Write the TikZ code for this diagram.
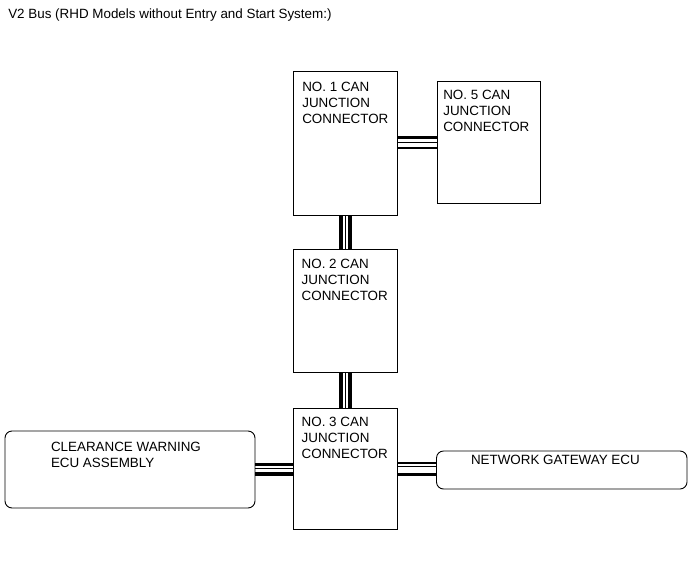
\documentclass[tikz,border=0pt]{standalone}
\usepackage{fontspec}
\setmainfont{Liberation Sans}
\newcommand{\boxlines}[1]{\begin{tabular}[t]{@{}l@{}}#1\end{tabular}}
\begin{document}
\begin{tikzpicture}[x=1pt,y=-1pt,
  box/.style={draw=black,line width=0.9pt,anchor=north west,inner sep=0pt,outer sep=0pt},
  rbox/.style={box,rounded corners=7pt},
  txt/.style={anchor=base west,inner sep=0pt,outer sep=0pt,font=\fontsize{13.4}{16}\selectfont},
  thick1/.style={line width=2.5pt},
  thin1/.style={line width=1.1pt},
  thick2/.style={line width=3.7pt}]
\useasboundingbox[fill=white] (0,0) rectangle (690,562);

% boxes
\node[box,minimum width=103.5pt,minimum height=144pt] (b1) at (293.5,71) {};
\node[box,minimum width=103.5pt,minimum height=122.5pt] (b5) at (437,81) {};
\node[box,minimum width=103.5pt,minimum height=123pt] (b2) at (293.5,249) {};
\node[box,minimum width=103.5pt,minimum height=121pt] (b3) at (293.5,408) {};
\node[rbox,minimum width=250pt,minimum height=77pt] (cl) at (5,431) {};
\node[rbox,minimum width=250.5pt,minimum height=38pt] (gw) at (436.5,451) {};

% texts
\node[txt] (title) at (8.3,18.5) {V2 Bus (RHD Models without Entry and Start System:)};
\node[txt] (t1) at (302.3,91) {\boxlines{NO. 1 CAN\\JUNCTION\\CONNECTOR}};
\node[txt] (t5) at (443.3,99.3) {\boxlines{NO. 5 CAN\\JUNCTION\\CONNECTOR}};
\node[txt] (t2) at (301.7,268.3) {\boxlines{NO. 2 CAN\\JUNCTION\\CONNECTOR}};
\node[txt] (t3) at (301.7,426) {\boxlines{NO. 3 CAN\\JUNCTION\\CONNECTOR}};
\node[txt] (tcl) at (51,451) {\boxlines{CLEARANCE WARNING\\ECU ASSEMBLY}};
\node[txt] (tgw) at (471,464.3) {NETWORK GATEWAY ECU};

% connector 1 - 5
\draw[thick1] (b1.east |- 0,137.5) -- (b5.west |- 0,137.5);
\draw[thin1]  (b1.east |- 0,142.8) -- (b5.west |- 0,142.8);
\draw[line width=1.8pt] (b1.east |- 0,147.7) -- (b5.west |- 0,147.7);

% connector 1 - 2
\draw[line width=4pt] (b1.south -| 340.7,0) -- (b2.north -| 340.7,0);
\draw[line width=1.3pt] (b1.south -| 345.6,0) -- (b2.north -| 345.6,0);
\draw[line width=3.6pt] (b1.south -| 350.2,0) -- (b2.north -| 350.2,0);

% connector 2 - 3
\draw[line width=4pt] (b2.south -| 340.7,0) -- (b3.north -| 340.7,0);
\draw[line width=1.3pt] (b2.south -| 345.6,0) -- (b3.north -| 345.6,0);
\draw[line width=3.6pt] (b2.south -| 350.2,0) -- (b3.north -| 350.2,0);

% connector clearance - 3
\draw[line width=2.3pt] (cl.east |- 0,464.5) -- (b3.west |- 0,464.5);
\draw[line width=1pt] (cl.east |- 0,468.8) -- (b3.west |- 0,468.8);
\draw[thick2] (cl.east |- 0,474.2) -- (b3.west |- 0,474.2);

% connector 3 - gateway
\draw[line width=2pt] (b3.east |- 0,463) -- (gw.west |- 0,463);
\draw[line width=1.3pt] (b3.east |- 0,466.7) -- (gw.west |- 0,466.7);
\draw[line width=3.3pt] (b3.east |- 0,474.3) -- (gw.west |- 0,474.3);
\end{tikzpicture}
\end{document}
